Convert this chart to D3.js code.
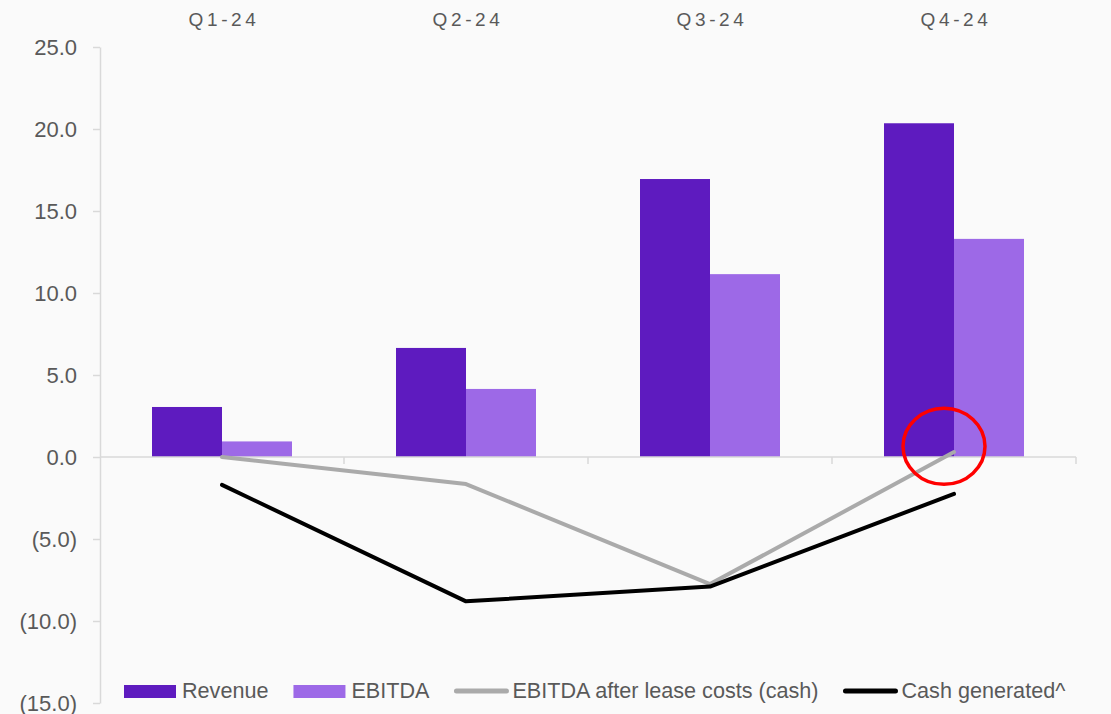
<!DOCTYPE html>
<html>
<head>
<meta charset="utf-8">
<script src="https://cdn.jsdelivr.net/npm/d3@7"></script>
<style>
  html, body { margin: 0; padding: 0; background: #fafafa; }
  svg { display: block; font-family: "Liberation Sans", Arial, sans-serif; }
</style>
</head>
<body>
<div id="chart"></div>
<script>
// chart data
var quarters = ["Q1-24", "Q2-24", "Q3-24", "Q4-24"];
var revenue = [3.05, 6.65, 16.95, 20.35];
var ebitda = [0.95, 4.15, 11.15, 13.3];
var ebitdaAfterLease = [0.0, -1.65, -7.75, 0.3];
var cashGenerated = [-1.7, -8.8, -7.9, -2.25];
var yTicks = [-15, -10, -5, 0, 5, 10, 15, 20, 25];
var legendItems = ["Revenue", "EBITDA", "EBITDA after lease costs (cash)", "Cash generated^"];

// colours
var revenue_color = "#5e1bbf";
var ebitda_color = "#9d69e7";
var lease_color = "#aaaaaa";
var cash_color = "#000000";
var axis_color = "#d9d9d9";
var text_color = "#595959";

var width = 1111, height = 714;

var svg = d3.select("#chart").append("svg")
  .attr("width", width)
  .attr("height", height);

svg.append("rect")
  .attr("width", width)
  .attr("height", height)
  .attr("fill", "#fafafa");

// ### scales
var x = d3.scaleBand().domain(quarters).range([100, 1076]).padding(0);
var bw = x.bandwidth();
var inner = d3.scaleBand().domain(["revenue", "ebitda"]).range([bw / 2 - 70, bw / 2 + 70]);
var y = d3.scaleLinear().domain([-15, 25]).range([703, 47]);

var fmt = function(v) {
  var s = d3.format(".1f")(Math.abs(v));
  return v < 0 ? "(" + s + ")" : s;
};

// ### y axis
var yAxis = svg.append("g")
  .attr("transform", "translate(100,0)")
  .call(d3.axisLeft(y).tickValues(yTicks).tickSize(7).tickSizeOuter(0).tickPadding(16).tickFormat(fmt));
yAxis.select(".domain").attr("stroke", axis_color).attr("stroke-width", 1.5);
yAxis.selectAll(".tick line").attr("stroke", axis_color).attr("stroke-width", 1.5);
yAxis.selectAll(".tick text")
  .attr("fill", text_color)
  .style("font-size", "22px")
  .style("font-family", "'Liberation Sans', Arial, sans-serif");

// ### bars
var barData = [];
quarters.forEach(function(q, i) {
  barData.push({q: q, key: "revenue", v: revenue[i], c: revenue_color});
  barData.push({q: q, key: "ebitda", v: ebitda[i], c: ebitda_color});
});

svg.append("g").selectAll("rect")
  .data(barData).enter().append("rect")
  .attr("x", function(d) { return x(d.q) + inner(d.key); })
  .attr("width", inner.bandwidth())
  .attr("y", function(d) { return y(Math.max(0, d.v)); })
  .attr("height", function(d) { return Math.abs(y(d.v) - y(0)); })
  .attr("fill", function(d) { return d.c; });

// ### zero line with category ticks
var zero = svg.append("g");
zero.append("line")
  .attr("x1", x.range()[0]).attr("x2", x.range()[1])
  .attr("y1", y(0)).attr("y2", y(0))
  .attr("stroke", axis_color).attr("stroke-width", 1.5);
zero.selectAll(".ctick")
  .data(quarters).enter().append("line")
  .attr("class", "ctick")
  .attr("x1", function(q) { return x(q) + bw; })
  .attr("x2", function(q) { return x(q) + bw; })
  .attr("y1", y(0)).attr("y2", y(0) + 7)
  .attr("stroke", axis_color).attr("stroke-width", 1.5);

// ### category labels along the top
svg.append("g").selectAll("text")
  .data(quarters).enter().append("text")
  .attr("x", function(q) { return x(q) + bw / 2 + 2; })
  .attr("y", 26)
  .attr("text-anchor", "middle")
  .attr("fill", text_color)
  .style("font-size", "19px")
  .style("letter-spacing", "3.6px")
  .text(function(q) { return q; });

// ### lines
var line = d3.line()
  .x(function(d, i) { return x(quarters[i]) + bw / 2; })
  .y(function(d) { return y(d); });

[[ebitdaAfterLease, lease_color], [cashGenerated, cash_color]].forEach(function(s) {
  svg.append("path")
    .datum(s[0])
    .attr("d", line)
    .attr("fill", "none")
    .attr("stroke", s[1])
    .attr("stroke-width", 4)
    .attr("stroke-linecap", "round")
    .attr("stroke-linejoin", "round");
});

// ### annotation circle round the Q4 after-lease point
svg.append("ellipse")
  .attr("cx", x("Q4-24") + bw / 2 - 10)
  .attr("cy", y(0.65))
  .attr("rx", 41)
  .attr("ry", 38)
  .attr("fill", "none")
  .attr("stroke", "#ff0000")
  .attr("stroke-width", 3.5);

// ### legend
var legend = svg.append("g").attr("transform", "translate(0,698)");
var cursor = 124;
var kinds = ["rect", "rect", "line", "line"];
var kindColors = [revenue_color, ebitda_color, lease_color, cash_color];
legendItems.forEach(function(name, i) {
  var g = legend.append("g").attr("transform", "translate(" + cursor + ",0)");
  var sw = 52;
  if (kinds[i] === "rect") {
    g.append("rect").attr("x", 0).attr("y", -13).attr("width", sw).attr("height", 13).attr("fill", kindColors[i]);
  } else {
    g.append("line").attr("x1", 2).attr("x2", sw).attr("y1", -7).attr("y2", -7)
      .attr("stroke", kindColors[i]).attr("stroke-width", 5).attr("stroke-linecap", "round");
  }
  var t = g.append("text")
    .attr("x", sw + 6)
    .attr("y", 0)
    .attr("fill", text_color)
    .style("font-size", "21.6px")
    .text(name);
  cursor += sw + 6 + t.node().getComputedTextLength() + 25;
});
</script>
</body>
</html>
